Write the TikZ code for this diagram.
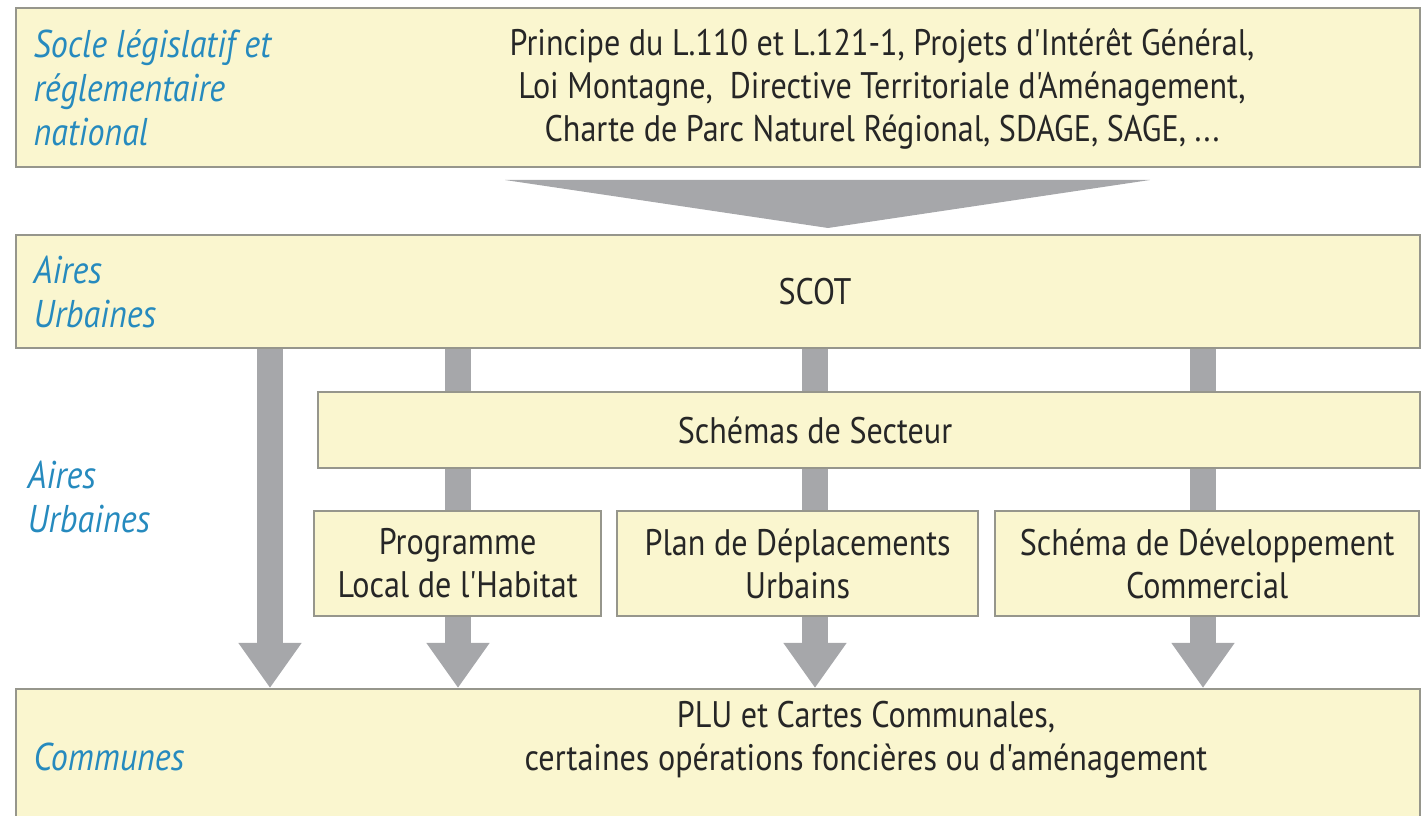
\documentclass[tikz,border=0pt]{standalone}
\usepackage{fontspec}
\setmainfont{PT Sans}
\newfontfamily\etroit[FakeStretch=0.87]{PT Sans}
\newfontfamily\penche[FakeStretch=0.88]{PT Sans}
\usetikzlibrary{positioning, arrows.meta, backgrounds}
\definecolor{fond}{RGB}{250,246,207}
\definecolor{bord}{RGB}{150,150,140}
\definecolor{fleche}{RGB}{166,167,170}
\definecolor{bleu}{RGB}{38,138,190}
\tikzset{
    x=0.01cm, y=-0.01cm, % one unit is one pixel of the original
    bloc/.style={draw=bord, fill=fond, line width=0.6pt, inner sep=0pt, anchor=north west}, % the yellow boxes
    niveau/.style={text=bleu, font=\fontsize{11}{12.5}\selectfont\penche\itshape, align=left, inner sep=0pt}, % blue level names
    texte/.style={text=black!85, font=\fontsize{10.5}{12.2}\selectfont\etroit, align=center, inner sep=0pt},
    flux/.style={draw=fleche, line width=0.26cm, -{Triangle[width=0.6cm, length=0.45cm]}},
    }

\begin{document}
\begin{tikzpicture}
\useasboundingbox (0,0) rectangle (1421,816);

% columns of the arrows
\coordinate (c0) at (270,0);
\coordinate (c1) at (458,0);
\coordinate (c2) at (815,0);
\coordinate (c3) at (1203,0);

\node[bloc, minimum width=14.03cm, minimum height=1.59cm] (socle) at (15,7) {};
\node[bloc, minimum width=14.03cm, minimum height=1.13cm] (scot) at (15,234) {};
\node[bloc, minimum width=11.01cm, minimum height=0.76cm] (secteur) at (317,391) {};
\node[bloc, texte, minimum width=2.87cm, minimum height=1.05cm] (plh) at (313,510) {Programme\\Local de l'Habitat};
\node[bloc, texte, minimum width=3.61cm, minimum height=1.05cm] (pdu) at (616,510) {Plan de Déplacements\\Urbains};
\node[bloc, texte, minimum width=4.24cm, minimum height=1.05cm] (sdc) at (994,510) {Schéma de Développement\\Commercial};
\node[bloc, minimum width=14.03cm, minimum height=1.5cm] (communes) at (15,688) {};

\node[niveau, right=0.18cm of socle.west] (socle-niv) {Socle législatif et\\réglementaire\\national};
\node[texte] (socle-txt) at (882,89) {Principe du L.110 et L.121-1, Projets d'Intérêt Général,\\Loi Montagne,~ Directive Territoriale d'Aménagement,\\Charte de Parc Naturel Régional, SDAGE, SAGE, ...};
\node[niveau, right=0.18cm of scot.west] (scot-niv) {Aires\\Urbaines};
\node[texte] (scot-txt) at (scot -| c2) {SCOT};
\node[texte] (secteur-txt) at (secteur -| c2) {Schémas de Secteur};
\node[niveau, anchor=west] (aires-niv) at (27,497) {Aires\\Urbaines};
\node[niveau, anchor=west] (communes-niv) at (33,757) {Communes};
\node[texte] (communes-txt) at (866,740) {PLU et Cartes Communales,\\certaines opérations foncières ou d'aménagement};

\begin{scope}[on background layer]
\fill[fleche] (505,180) -- (1150,180) -- (828,228) -- cycle;
\draw[flux] (scot.south -| c0) -- (communes.north -| c0);
\draw[flux] (scot.south -| c1) -- (communes.north -| c1);
\draw[flux] (scot.south -| c2) -- (communes.north -| c2);
\draw[flux] (scot.south -| c3) -- (communes.north -| c3);
\end{scope}

\end{tikzpicture}
\end{document}
